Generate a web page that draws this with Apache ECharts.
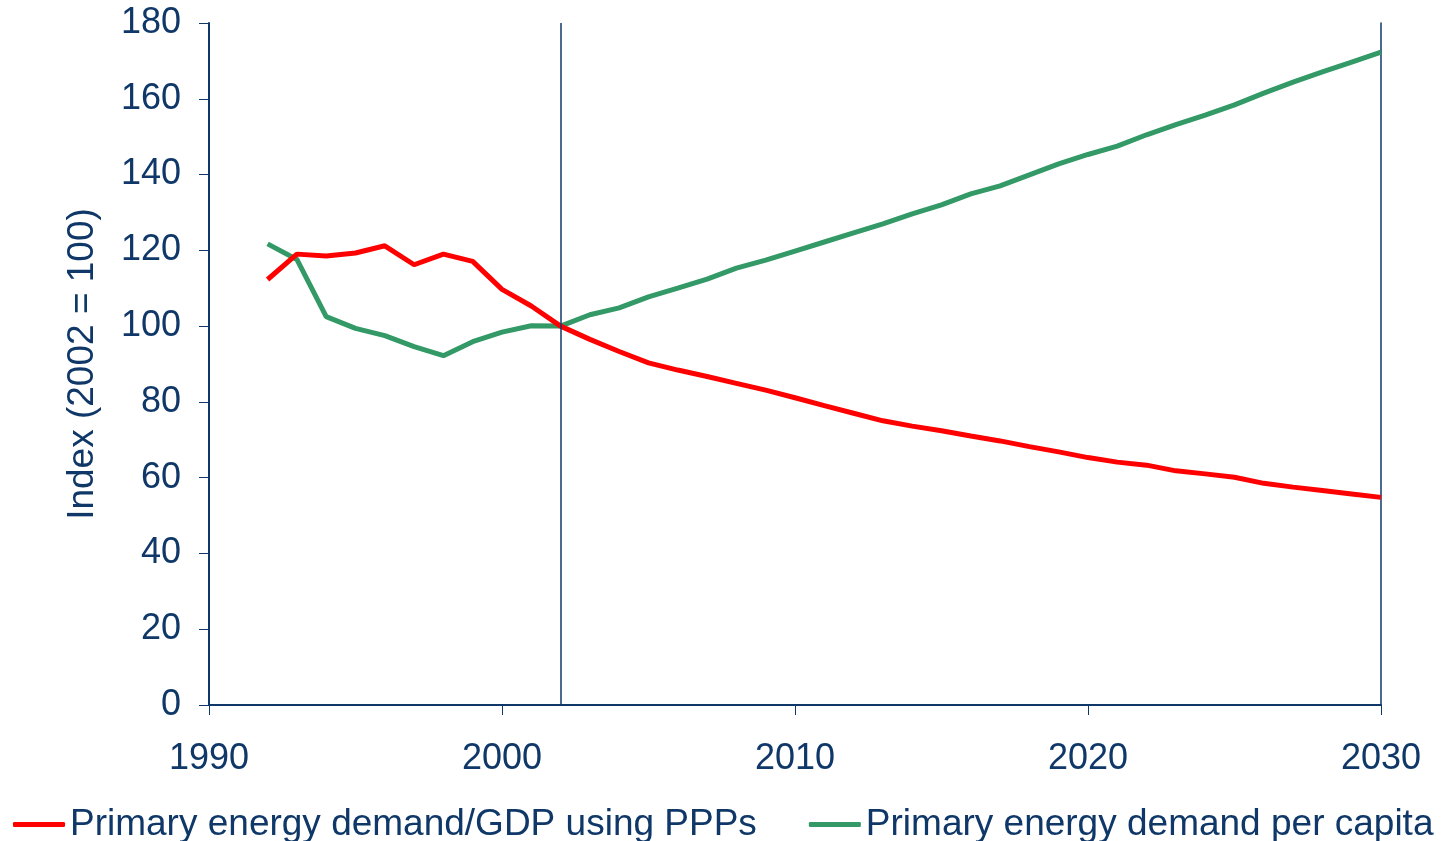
<!DOCTYPE html>
<html>
<head>
<meta charset="utf-8">
<title>Primary energy demand index</title>
<script src="https://cdn.jsdelivr.net/npm/echarts@6/dist/echarts.min.js"></script>
<style>
  html, body { margin: 0; padding: 0; background: #fff; }
  #chart { width: 1448px; height: 841px; }
</style>
</head>
<body>
<div id="chart"></div>
<script>
var years = [1992, 1993, 1994, 1995, 1996, 1997, 1998, 1999, 2000, 2001, 2002,
  2003, 2004, 2005, 2006, 2007, 2008, 2009, 2010, 2011, 2012, 2013, 2014, 2015, 2016,
  2017, 2018, 2019, 2020, 2021, 2022, 2023, 2024, 2025, 2026, 2027, 2028, 2029, 2030];

var demandPerGdp = [112.3, 119.0, 118.5, 119.3, 121.2, 116.2, 119.0, 117.1, 109.7, 105.3, 100,
  96.5, 93.3, 90.3, 88.4, 86.7, 84.9, 83.1, 81.1, 79.0, 77.0, 75.0, 73.6, 72.4, 71.0,
  69.7, 68.2, 66.8, 65.3, 64.1, 63.3, 61.8, 61.0, 60.1, 58.5, 57.5, 56.6, 55.7, 54.8];

var demandPerCapita = [121.7, 117.6, 102.5, 99.4, 97.5, 94.6, 92.2, 95.9, 98.4, 100.1, 100,
  103.0, 104.8, 107.7, 110.0, 112.4, 115.3, 117.4, 119.8, 122.2, 124.6, 127.0, 129.6, 132.0, 134.9,
  137.0, 139.9, 142.8, 145.3, 147.5, 150.5, 153.2, 155.7, 158.4, 161.5, 164.4, 167.1, 169.7, 172.3];

var seriesNames = ['Primary energy demand/GDP using PPPs', 'Primary energy demand per capita'];
var baseYear = 2002;

var navy = '#0f3868';
var fontFamily = '"Liberation Sans", Arial, sans-serif';

function pairs(vals) {
  return years.map(function (y, i) { return [y, vals[i]]; });
}

var myChart = echarts.init(document.getElementById('chart'));

var option = {
  animation: false,
  backgroundColor: '#fff',
  textStyle: { fontFamily: fontFamily, color: navy },
  grid: { left: 209, right: 67, top: 23, bottom: 136, containLabel: false },
  legend: {
    left: 8,
    top: 801,
    width: 1440,
    itemWidth: 52,
    itemHeight: 5,
    itemGap: 52,
    icon: 'roundRect',
    textStyle: { fontSize: 37, color: navy, fontFamily: fontFamily },
    data: seriesNames
  },
  xAxis: {
    type: 'value',
    min: 1990,
    max: 2030,
    interval: 10,
    axisLine: { show: true, lineStyle: { color: navy, width: 2 } },
    axisTick: { show: true, length: 10, lineStyle: { color: navy, width: 1 } },
    axisLabel: {
      fontSize: 36, color: navy, margin: 36, fontFamily: fontFamily,
      formatter: function (v) { return String(v); }
    },
    splitLine: { show: false }
  },
  yAxis: [{
    type: 'value',
    min: 0,
    max: 180,
    interval: 20,
    name: 'Index (2002 = 100)',
    nameLocation: 'middle',
    nameGap: 108,
    nameTextStyle: { fontSize: 37, color: navy, fontFamily: fontFamily },
    axisLine: { show: true, lineStyle: { color: navy, width: 2 } },
    axisTick: { show: true, length: 10, lineStyle: { color: navy, width: 1 } },
    axisLabel: { fontSize: 36, color: navy, margin: 28, fontFamily: fontFamily },
    splitLine: { show: false }
  }, {
    type: 'value',
    min: 0,
    max: 180,
    position: 'right',
    axisLine: { show: true, lineStyle: { color: navy, width: 1.5 } },
    axisTick: { show: false },
    axisLabel: { show: false },
    splitLine: { show: false }
  }],
  series: [{
    name: seriesNames[0],
    type: 'line',
    data: pairs(demandPerGdp),
    symbol: 'none',
    color: '#ff0000',
    lineStyle: { color: '#ff0000', width: 5 },
    z: 3,
    markLine: {
      silent: true,
      symbol: 'none',
      label: { show: false },
      lineStyle: { color: navy, width: 1.5, type: 'solid' },
      data: [{ xAxis: baseYear }]
    }
  }, {
    name: seriesNames[1],
    type: 'line',
    data: pairs(demandPerCapita),
    symbol: 'none',
    color: '#339966',
    lineStyle: { color: '#339966', width: 5 },
    z: 2
  }]
};

myChart.setOption(option);
window.onresize = function () {
  myChart.resize();
};
</script>
</body>
</html>
